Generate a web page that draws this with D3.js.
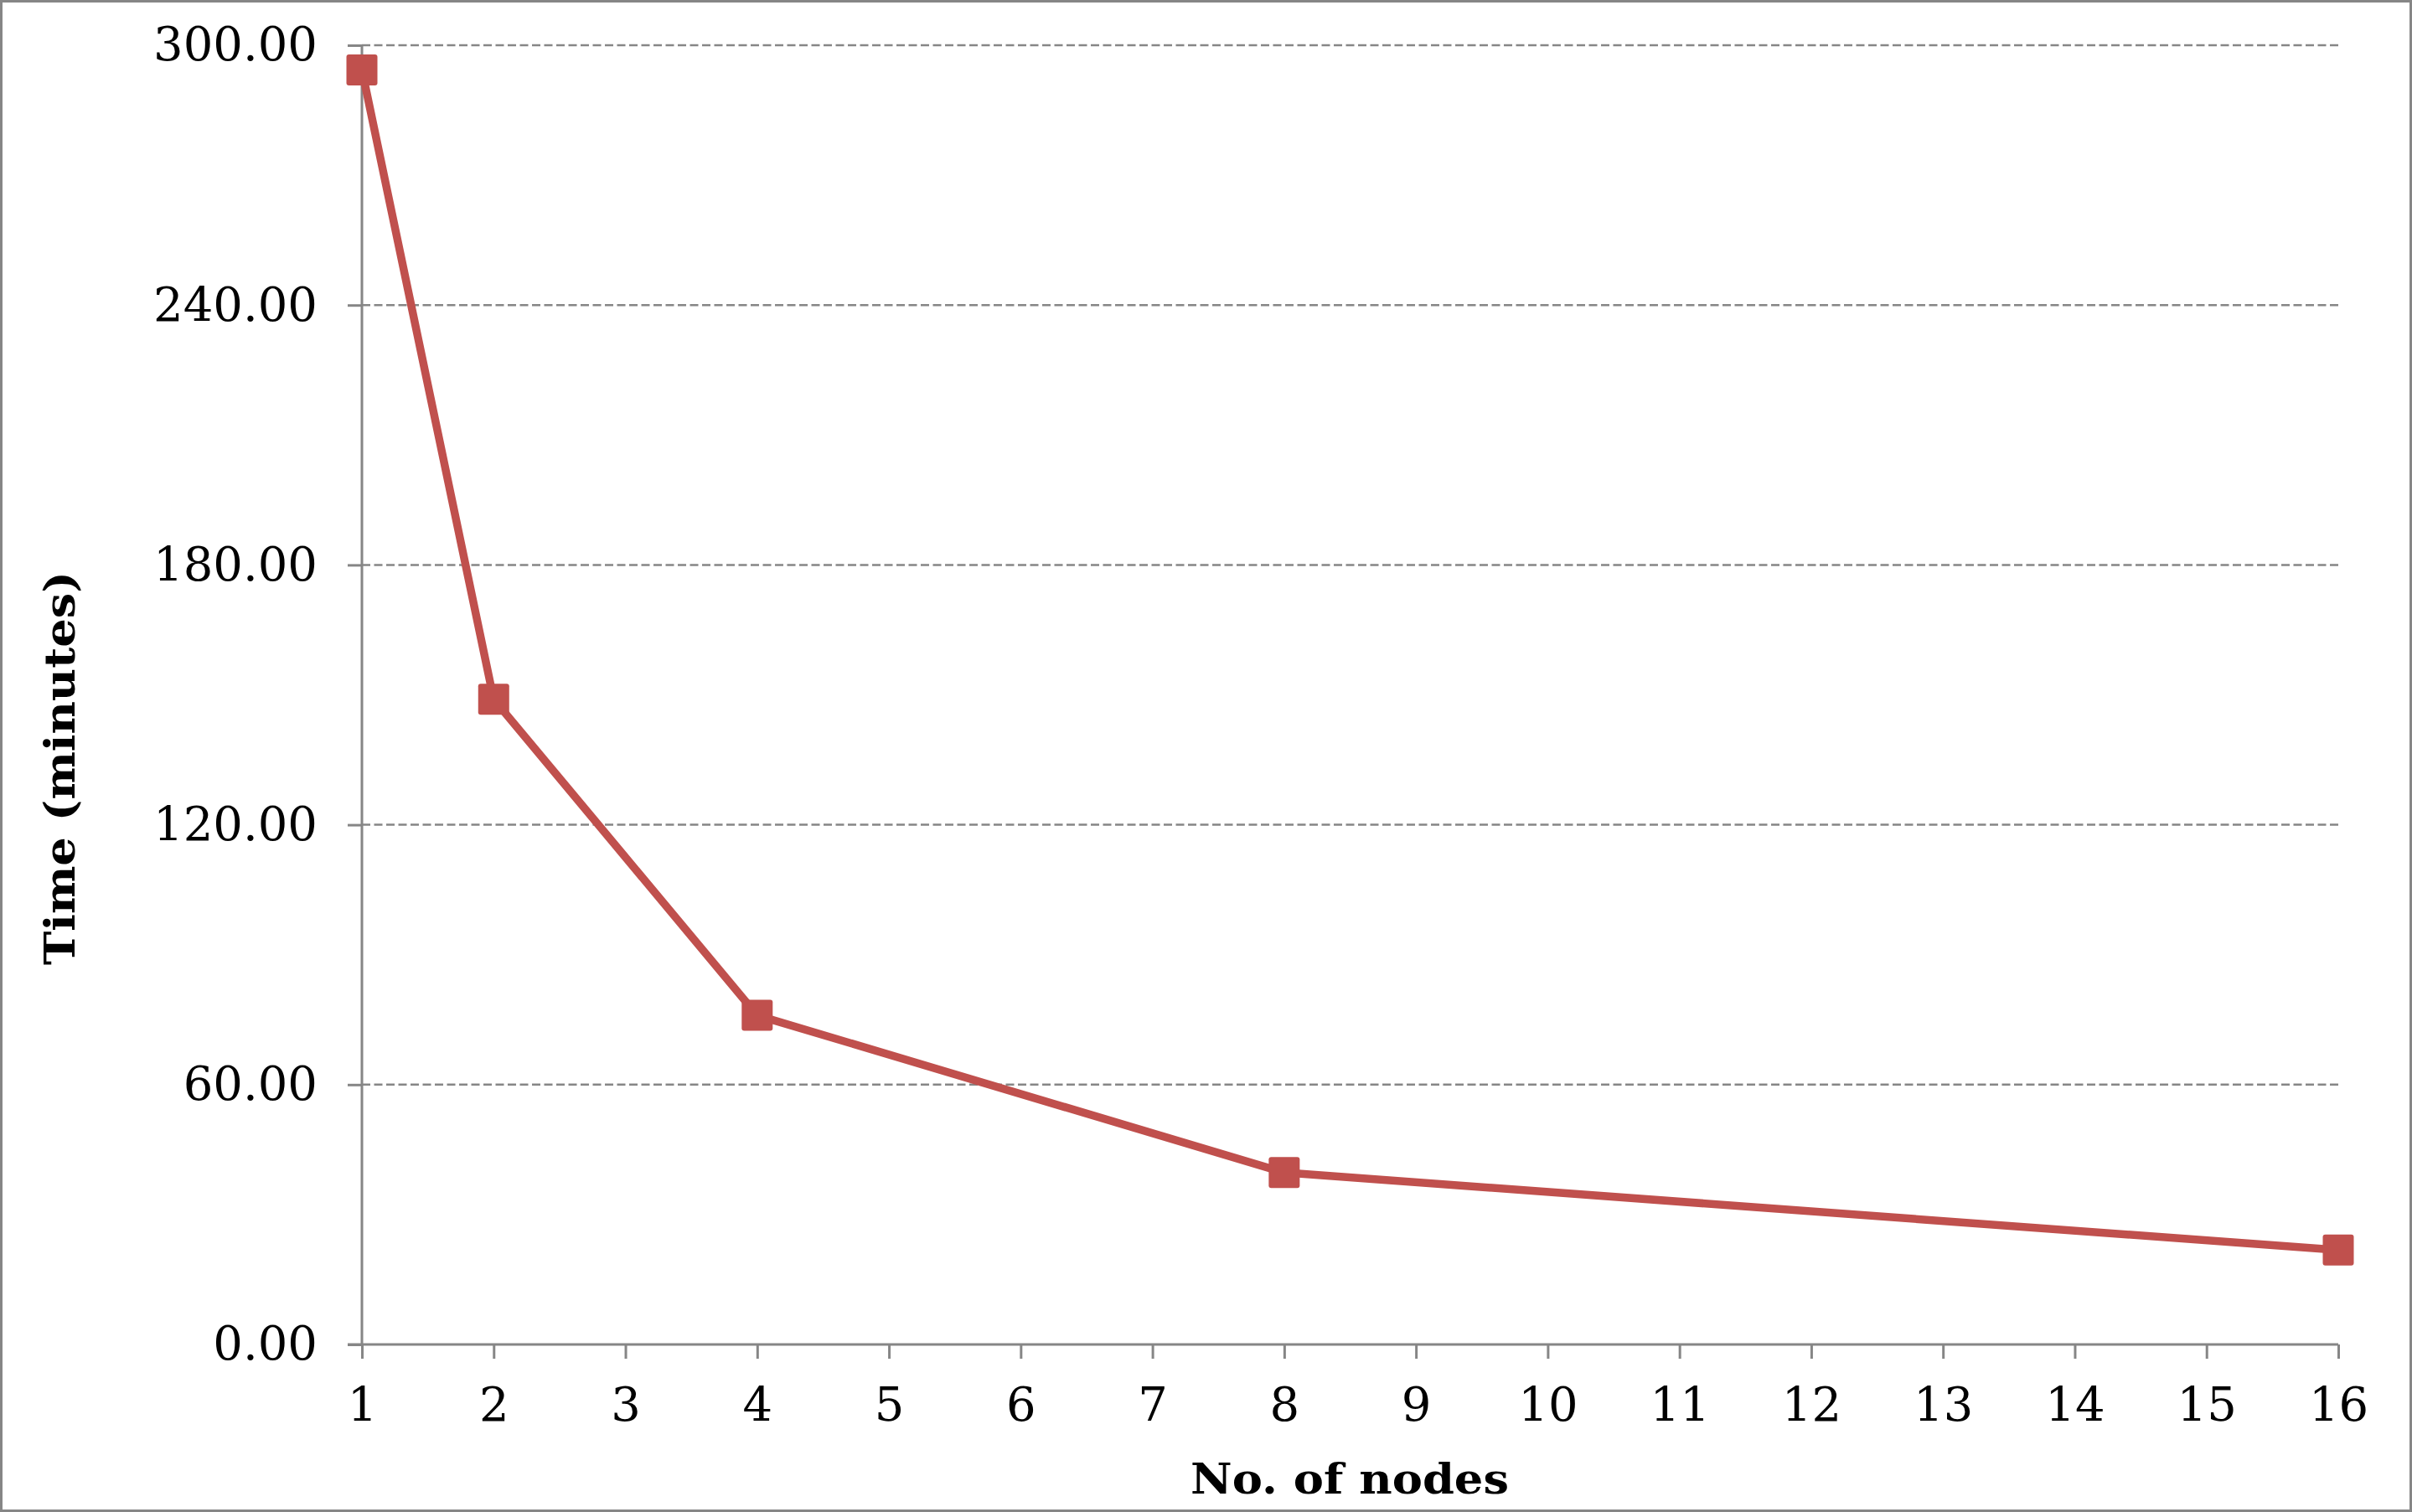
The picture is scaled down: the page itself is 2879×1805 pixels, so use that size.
<!DOCTYPE html>
<html>
<head>
<meta charset="utf-8">
<script src="https://cdn.jsdelivr.net/npm/d3@7"></script>
<style>
  html, body { margin: 0; padding: 0; background: #fff; }
  svg { display: block; }
</style>
</head>
<body>
<script>
// ---- data ----
const nodes = [1, 2, 4, 8, 16];
const times = [294.3, 149.0, 76.0, 39.7, 21.8];
const xTicks = [1, 2, 3, 4, 5, 6, 7, 8, 9, 10, 11, 12, 13, 14, 15, 16];
const yTicks = [0, 60, 120, 180, 240, 300];
const xTitle = "No. of nodes";
const yTitle = "Time (minutes)";

(function () {
const W = 2879, H = 1805;
const mLeft = 432, mRight = 2791, mTop = 54, mBottom = 1605;
const grey = "#868686";
const red = "#C0504D";
const font = "'DejaVu Serif', serif";

const svg = d3.select("body").append("svg").attr("width", W).attr("height", H);

svg.append("rect").attr("x", 1.5).attr("y", 1.5).attr("width", W - 3).attr("height", H - 3)
  .attr("fill", "#fff").attr("stroke", grey).attr("stroke-width", 3);

const x = d3.scaleLinear().domain([1, 16]).range([mLeft, mRight]);
const y = d3.scaleLinear().domain([0, 300]).range([mBottom, mTop]);

// gridlines
svg.append("g").selectAll("line").data(yTicks.filter(d => d > 0)).join("line")
  .attr("x1", mLeft).attr("x2", mRight)
  .attr("y1", d => y(d)).attr("y2", d => y(d))
  .attr("stroke", grey).attr("stroke-width", 2.5).attr("stroke-dasharray", "10,4.5");

// y axis
const yAxis = svg.append("g").attr("transform", `translate(${mLeft},0)`)
  .call(d3.axisLeft(y).tickValues(yTicks).tickFormat(d3.format(".2f")).tickSize(17).tickPadding(36));
yAxis.select(".domain").attr("stroke", grey).attr("stroke-width", 3).attr("d", `M0,${mTop}V${mBottom}`);
yAxis.selectAll(".tick line").attr("stroke", grey).attr("stroke-width", 3);
yAxis.selectAll(".tick text").attr("font-family", font).attr("font-size", 56).attr("fill", "#000");

// x axis
const xAxis = svg.append("g").attr("transform", `translate(0,${mBottom})`)
  .call(d3.axisBottom(x).tickValues(xTicks).tickFormat(d3.format("d")).tickSize(17).tickPadding(34));
xAxis.select(".domain").attr("stroke", grey).attr("stroke-width", 3).attr("d", `M${mLeft - 17},0H${mRight}`);
xAxis.selectAll(".tick line").attr("stroke", grey).attr("stroke-width", 3);
xAxis.selectAll(".tick text").attr("font-family", font).attr("font-size", 56).attr("fill", "#000");

// line
const line = d3.line().x((d, i) => x(nodes[i])).y(d => y(d));
svg.append("path").datum(times).attr("d", line)
  .attr("fill", "none").attr("stroke", red).attr("stroke-width", 9.5).attr("stroke-linejoin", "round");

// markers
const ms = 37;
svg.append("g").selectAll("rect").data(times).join("rect")
  .attr("x", (d, i) => x(nodes[i]) - ms / 2).attr("y", d => y(d) - ms / 2)
  .attr("width", ms).attr("height", ms).attr("rx", 3)
  .attr("fill", red);

// titles
svg.append("text").attr("x", 1611).attr("y", 1783).attr("text-anchor", "middle")
  .attr("font-family", font).attr("font-weight", "bold").attr("font-size", 50)
  .attr("textLength", 380).attr("lengthAdjust", "spacingAndGlyphs")
  .attr("fill", "#000").text(xTitle);

svg.append("text").attr("transform", "translate(89,917) rotate(-90)").attr("text-anchor", "middle")
  .attr("font-family", font).attr("font-weight", "bold").attr("font-size", 50)
  .attr("textLength", 470).attr("lengthAdjust", "spacingAndGlyphs")
  .attr("fill", "#000").text(yTitle);
})();
</script>
</body>
</html>
